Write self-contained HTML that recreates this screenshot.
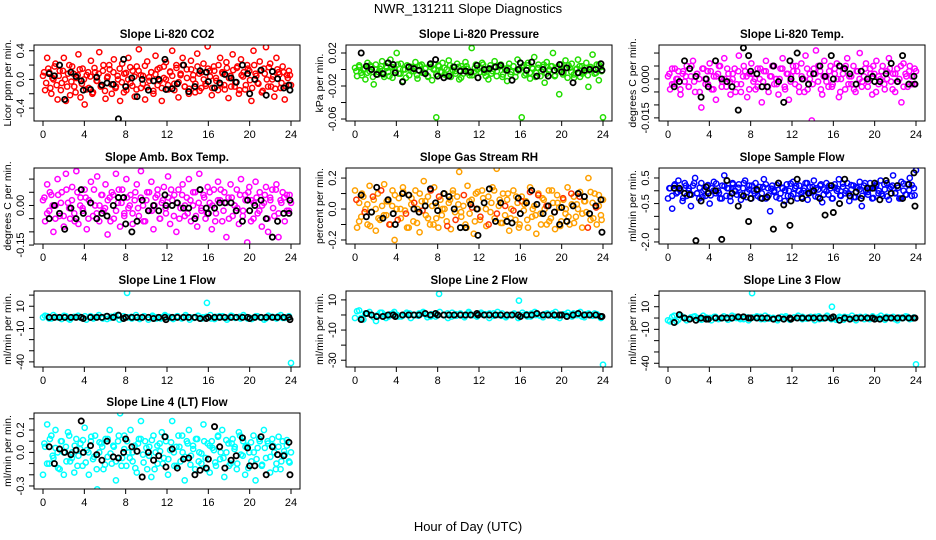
<!DOCTYPE html>
<html><head><meta charset="utf-8">
<style>
html,body{margin:0;padding:0;background:#fff;}
svg{display:block;font-family:"Liberation Sans","DejaVu Sans",sans-serif;}
</style></head>
<body>
<svg id="chart" width="936" height="540" viewBox="0 0 936 540" xmlns="http://www.w3.org/2000/svg">
<rect width="936" height="540" fill="#fff"/>
<text x="468" y="13" text-anchor="middle" font-size="13">NWR_131211  Slope Diagnostics</text>
<text x="468" y="531" text-anchor="middle" font-size="13">Hour of Day (UTC)</text>
</svg>
<script>
const blackHours=[0.6,1.1,1.6,2.1,2.7,3.2,3.7,3.9,4.6,5.2,5.7,6.2,6.8,7.3,7.8,8.0,8.6,9.1,9.6,10.2,10.7,11.2,11.8,11.9,12.5,13.0,13.6,14.1,14.7,15.2,15.8,16.0,16.6,17.1,17.6,18.2,18.7,19.3,19.8,20.0,20.5,21.1,21.6,22.2,22.7,23.3,23.8,23.9];
const xTicks=[0,4,8,12,16,20,24];

const co2Color=[0.05,-0.15,0.3,0.1,-0.2,0.0,0.22,-0.28,0.12,-0.05,0.3,-0.3,0.08,-0.22,0.18,-0.1,0.02,0.35,-0.25,0.15,-0.35,0.06,-0.12,0.26,-0.18,0.1,-0.02,0.38,-0.08,0.2,-0.27,0.04,0.14,-0.2,0.28,-0.1,0.0,-0.3,0.22,0.08,-0.15,0.3,-0.05,0.12,-0.24,0.18,0.42,-0.12,0.05,-0.28,0.25,-0.02,0.1,-0.2,0.33,-0.08,0.16,-0.3,0.02,0.24,-0.14,0.1,0.4,-0.06,0.2,-0.25,0.06,0.3,-0.1,0.14,-0.2,0.26,0.0,-0.18,0.36,0.08,-0.12,0.22,-0.06,0.46,0.12,-0.22,0.18,0.02,-0.15,0.3,0.1,-0.08,0.24,-0.26,0.05,0.35,-0.1,0.16,-0.2,0.28,0.04,-0.14,0.2,0.12,-0.3,0.4,0.08,-0.05,0.25,-0.18,0.15,0.45,-0.1,0.22,0.0,-0.24,0.3,0.1,-0.12,0.18,-0.28,0.06,0.12,-0.08];
const co2Core=[0.1,-0.05,0.15,-0.12,0.02,0.18,-0.08,0.05,-0.15,0.12,0.0,-0.1,0.2,-0.03,0.08,-0.18,0.06,0.14,-0.06,0.0,-0.14,0.1,0.04,-0.2,0.16,-0.02,0.08,-0.1,0.12,-0.16,0.02,0.2,-0.07,0.1,-0.12,0.05,0.15,-0.04,-0.18,0.09,0.0,0.17,-0.09,0.04,-0.14,0.12,0.06,-0.06,0.19,-0.11,0.03,0.1,-0.16,0.07,0.14,-0.02,-0.12,0.18,0.0,-0.08,0.11,0.05,-0.15,0.16,-0.04,0.08,0.2,-0.1,0.02,-0.13,0.14,0.06,-0.06,0.18,-0.16,0.1,0.0,-0.09,0.15,0.04,-0.12,0.12,-0.02,0.2,-0.07,0.08,-0.14,0.16,0.02,-0.1,0.13,-0.04,0.18,-0.15,0.06,0.1,-0.08,0.15,-0.01,-0.12,0.2,0.05,-0.06,0.12,-0.16,0.08,0.0,0.17,-0.1,0.04,-0.13,0.14,0.07,-0.05,0.1,-0.09,0.02,0.06];
const co2Black=[0.08,0.05,0.2,-0.28,0.1,0.04,-0.02,-0.15,-0.14,0.03,-0.08,-0.05,-0.07,-0.55,0.28,-0.1,0.02,-0.24,0.0,-0.15,-0.02,0.0,0.28,-0.14,-0.13,-0.06,0.2,-0.17,-0.1,0.12,0.1,-0.03,-0.12,-0.05,0.07,0.02,-0.04,0.2,0.08,-0.2,0.0,0.13,-0.22,0.11,0.01,-0.12,-0.08,-0.15];

const presColor=[0.002,-0.008,0.005,-0.004,0.0,-0.012,0.008,-0.002,0.003,-0.018,0.006,-0.006,0.001,0.01,-0.009,0.004,-0.003,0.012,-0.01,0.002,0.02,-0.005,0.007,-0.014,0.0,0.005,-0.007,0.003,-0.002,0.009,-0.011,0.004,0.006,-0.004,0.002,-0.008,0.006,-0.013,0.001,-0.058,0.005,-0.003,0.008,-0.006,0.0,0.011,-0.009,0.003,-0.002,0.007,-0.012,0.004,-0.005,0.009,0.001,-0.007,0.026,-0.003,0.006,-0.01,0.002,0.008,-0.004,0.0,-0.012,0.005,-0.002,0.01,-0.008,0.003,0.006,-0.006,0.001,-0.014,0.007,-0.003,0.004,-0.009,0.012,0.0,-0.058,0.005,-0.005,0.008,-0.011,0.002,0.015,-0.004,0.006,-0.008,0.003,-0.016,0.009,-0.002,0.004,0.02,-0.007,0.001,-0.03,0.006,-0.004,0.011,-0.01,0.002,0.007,-0.006,0.0,0.012,-0.009,0.004,-0.003,0.008,-0.021,0.001,0.018,-0.005,0.006,-0.013,0.003,-0.058];
const presCore=[-0.002,0.003,-0.007,0.001,-0.004,0.005,-0.009,0.0,-0.003,0.004,-0.006,0.002,-0.008,0.003,-0.001,0.006,-0.005,0.0,-0.01,0.004,-0.002,0.002,-0.007,0.005,-0.004,0.001,-0.009,0.003,0.0,-0.006,0.004,-0.003,0.002,-0.008,0.005,-0.001,-0.005,0.003,-0.01,0.001,0.004,-0.004,-0.007,0.002,0.0,-0.003,0.006,-0.008,0.001,-0.005,0.003,-0.002,0.005,-0.009,0.0,0.002,-0.006,0.004,-0.003,-0.001,0.003,-0.007,0.005,-0.004,0.001,-0.009,0.002,-0.002,0.006,-0.005,0.0,0.004,-0.008,0.003,-0.001,-0.006,0.002,0.005,-0.003,-0.01,0.001,0.004,-0.005,0.002,-0.007,0.003,0.0,-0.004,0.006,-0.002];
const presBlack=[0.02,0.004,0.0,-0.006,-0.005,0.008,0.006,-0.004,-0.015,0.003,0.001,-0.001,-0.005,0.007,0.012,-0.008,-0.01,-0.008,0.003,-0.002,-0.002,-0.003,0.005,-0.01,0.0,0.001,0.003,0.005,-0.001,-0.013,0.0,0.008,-0.001,0.009,-0.008,0.0,-0.008,-0.001,0.006,-0.003,0.002,-0.016,-0.004,-0.001,0.0,0.0,0.007,-0.001];

const tempColor=[0.001,-0.004,0.004,-0.002,0.0,0.003,-0.006,0.002,-0.001,0.005,-0.003,0.001,0.007,-0.005,0.002,0.0,-0.011,0.004,-0.002,0.003,0.006,-0.004,0.001,-0.008,0.002,0.005,-0.001,0.008,-0.003,0.002,-0.006,0.0,0.004,-0.002,0.009,-0.005,0.001,0.003,-0.007,0.002,0.006,-0.001,-0.004,0.004,0.0,-0.009,0.003,0.007,-0.003,0.001,0.005,-0.002,0.0,-0.006,0.004,0.008,-0.003,0.002,-0.008,0.001,0.005,-0.002,0.003,-0.005,0.006,0.0,0.009,-0.004,0.002,-0.016,0.004,0.011,-0.001,0.003,-0.006,0.007,0.001,-0.003,0.005,-0.002,0.002,0.006,-0.007,0.0,0.004,-0.004,0.008,0.001,-0.002,0.005,-0.005,0.003,0.01,-0.003,0.001,0.006,-0.001,0.004,-0.006,0.002,0.007,-0.002,0.0,0.005,-0.004,0.003,0.008,-0.001,0.002,-0.005,0.004,0.0,-0.009,0.006,0.002,-0.003,0.005,0.001,-0.002,0.003];
const tempCore=[0.002,-0.002,0.004,0.0,-0.004,0.003,0.001,-0.003,0.005,-0.001,0.002,-0.005,0.004,0.0,-0.002,0.003,-0.004,0.001,0.005,-0.003,0.0,0.004,-0.001,0.002,-0.005,0.003,-0.002,0.005,0.001,-0.004,0.002,0.0,-0.003,0.004,-0.001,0.003,-0.005,0.001,0.005,-0.002,0.0,0.004,-0.004,0.002,-0.001,0.003,0.005,-0.003,0.001,-0.005,0.004,0.0,-0.002,0.002,0.005,-0.004,0.001,-0.001,0.003,-0.003,0.004,0.0,-0.005,0.002,0.005,-0.002,0.001,-0.004,0.003,0.0,-0.001,0.004,-0.003,0.002,0.005,-0.005,0.001,0.003,-0.002,0.0,0.004,-0.004,0.002,-0.001,0.005,-0.003,0.001,0.003,-0.002,0.004];
const tempBlack=[-0.003,-0.001,0.007,0.004,0.001,-0.007,0.0,-0.003,0.007,0.0,-0.001,-0.003,-0.012,0.012,0.009,0.003,0.002,-0.003,-0.003,0.005,-0.001,-0.009,0.007,0.0,0.01,0.0,-0.002,0.002,0.005,0.001,0.009,0.0,0.005,0.004,0.002,-0.002,0.003,0.0,0.001,-0.001,-0.001,0.002,0.006,-0.001,0.009,-0.002,0.001,-0.002];

const ambColor=[0.02,-0.06,0.08,-0.02,0.04,-0.1,0.0,0.1,-0.04,0.05,-0.08,0.12,0.01,-0.05,0.07,-0.03,0.13,-0.07,0.03,-0.01,0.06,-0.09,0.02,0.09,-0.04,0.0,0.11,-0.06,0.04,-0.02,0.08,-0.11,0.03,0.05,-0.05,0.12,0.01,-0.08,0.06,-0.03,0.1,-0.01,0.04,-0.07,0.02,0.08,-0.04,0.13,0.0,-0.06,0.05,-0.02,0.09,-0.09,0.03,0.06,-0.05,0.01,0.07,-0.03,0.11,-0.07,0.02,0.04,-0.1,0.06,-0.01,0.08,-0.04,0.03,0.1,-0.06,0.0,0.05,-0.08,0.12,-0.02,0.04,-0.05,0.07,0.01,-0.09,0.06,-0.03,0.09,0.02,-0.06,0.05,-0.12,0.03,0.08,-0.04,0.0,0.06,-0.07,0.1,-0.02,0.04,-0.14,0.07,0.02,-0.05,0.09,-0.03,0.05,-0.08,0.01,0.07,-0.1,0.03,0.06,-0.04,0.08,-0.12,0.02,0.05,-0.06,0.04,-0.02,0.01];
const ambCore=[0.03,-0.03,0.05,0.0,-0.05,0.04,0.01,-0.04,0.06,-0.01,0.02,-0.06,0.05,0.0,-0.02,0.03,-0.05,0.01,0.06,-0.03,0.0,0.04,-0.01,0.02,-0.06,0.04,-0.02,0.06,0.01,-0.04,0.03,0.0,-0.03,0.05,-0.01,0.03,-0.06,0.02,0.05,-0.02,0.0,0.04,-0.05,0.02,-0.01,0.03,0.06,-0.04,0.01,-0.05,0.04,0.0,-0.03,0.02,0.05,-0.04,0.01,-0.01,0.03,-0.03,0.05,0.0,-0.06,0.02,0.06,-0.02,0.01,-0.05,0.03,0.0,-0.01,0.04,-0.04,0.02,0.05,-0.06,0.01,0.03,-0.02,0.0,0.04,-0.05,0.02,-0.01,0.06,-0.03,0.01,0.03,-0.02,0.04];
const ambBlack=[-0.05,0.0,-0.03,-0.09,-0.01,-0.05,0.06,-0.03,0.01,-0.05,-0.03,-0.04,0.0,0.03,0.03,-0.07,-0.1,-0.06,0.02,-0.02,0.0,-0.02,0.04,0.0,0.0,0.01,-0.01,-0.01,-0.05,0.06,-0.01,-0.03,-0.01,0.01,0.01,0.01,-0.02,-0.06,0.02,-0.02,0.0,0.02,-0.05,-0.12,-0.06,-0.03,-0.03,0.02];

const rhColor=[0.12,-0.12,0.04,-0.05,0.08,0.0,-0.1,0.15,-0.02,0.06,-0.14,0.1,-0.07,0.02,0.16,-0.04,0.05,-0.1,0.12,-0.2,0.0,0.07,-0.06,0.14,-0.01,-0.12,0.09,0.03,-0.08,0.12,0.0,-0.15,0.05,0.18,-0.04,0.08,-0.1,0.02,0.14,-0.06,-0.12,0.06,0.0,0.1,-0.08,0.04,-0.13,0.12,-0.02,0.08,0.24,-0.05,0.02,-0.1,0.15,-0.03,0.06,-0.16,0.1,0.0,-0.07,0.12,0.04,-0.11,0.08,-0.02,0.14,-0.06,0.26,0.02,-0.09,0.1,-0.04,0.06,-0.14,0.0,0.12,-0.07,0.04,-0.1,0.08,-0.01,0.05,-0.12,0.14,-0.05,0.02,-0.16,0.1,-0.03,0.07,0.0,-0.1,0.12,-0.06,0.04,-0.13,0.09,0.01,-0.08,0.06,-0.03,0.14,-0.1,0.03,0.08,-0.05,0.0,0.11,-0.12,0.05,-0.02,0.2,-0.07,0.04,0.1,-0.1,0.02,-0.04,0.06];
const rhCore=[0.06,-0.08,0.1,-0.02,0.03,-0.11,0.08,0.0,-0.06,0.12,-0.04,0.05,-0.1,0.02,0.09,-0.07,0.0,0.11,-0.03,-0.12,0.07,0.04,-0.09,0.1,-0.01,0.05,-0.06,0.12,-0.1,0.02,0.08,-0.04,0.0,-0.11,0.06,0.1,-0.07,0.03,-0.02,0.09,-0.12,0.05,0.01,-0.08,0.11,-0.05,0.07,0.0,-0.1,0.04,0.12,-0.03,0.06,-0.09,0.02,0.1,-0.06,-0.01,0.08,-0.12,0.05,0.03,-0.07,0.11,0.0,-0.04,0.09,-0.1,0.06,0.02,-0.08,0.12,-0.02,0.04,-0.11,0.07,0.0,-0.05,0.1,-0.09,0.03,0.08,-0.03,0.05,-0.12,0.11,-0.06,0.01,0.09,-0.07];
const rhBlack=[0.09,-0.05,-0.02,0.14,-0.06,0.06,-0.03,-0.1,0.1,0.09,0.0,-0.02,0.02,0.13,0.04,-0.01,0.1,0.08,0.0,-0.12,-0.12,0.03,0.0,-0.17,0.04,0.13,-0.08,0.04,-0.08,-0.09,0.07,-0.03,0.04,0.12,0.03,-0.03,0.02,-0.02,-0.1,0.01,-0.08,0.02,0.1,0.08,-0.03,0.02,0.06,-0.15];

const flowColor=[-0.3,0.1,-0.7,0.2,-0.1,0.4,0.0,-0.4,0.3,-0.2,0.1,-0.6,0.2,0.5,-0.1,-0.3,0.3,0.0,-0.2,0.2,-0.5,0.1,0.35,-0.1,0.0,-0.3,0.2,0.6,-0.2,0.1,-0.4,0.3,0.0,-0.15,0.25,-0.35,0.1,0.4,-0.05,0.2,-0.3,0.0,0.3,-0.2,0.15,-0.1,0.45,-0.3,0.1,-0.8,0.2,0.0,-0.25,0.3,-0.1,0.1,-0.4,0.25,0.0,-0.2,0.35,0.1,-0.3,0.2,-0.1,0.0,0.3,-0.35,0.15,-0.05,0.4,0.1,-0.25,0.2,-0.45,0.05,0.3,-0.15,0.1,-0.3,0.25,0.0,0.45,-0.2,0.15,-0.1,0.3,-0.4,0.05,0.2,-0.25,0.1,0.35,-0.6,0.2,0.0,-0.15,0.3,-0.3,0.1,0.25,-0.1,0.4,-0.2,0.05,0.3,-0.35,0.15,0.6,-0.1,0.2,-0.3,0.35,0.0,-0.15,0.25,0.5,-0.2,0.1,0.8];
const flowCore=[0.1,-0.2,0.25,-0.05,0.05,-0.28,0.2,0.0,-0.15,0.3,-0.1,0.12,-0.25,0.05,0.22,-0.18,0.0,0.28,-0.08,-0.3,0.18,0.1,-0.22,0.25,-0.02,0.12,-0.15,0.3,-0.25,0.05,0.2,-0.1,0.0,-0.28,0.15,0.25,-0.18,0.08,-0.05,0.22,-0.3,0.12,0.02,-0.2,0.28,-0.12,0.18,0.0,-0.25,0.1,0.3,-0.08,0.15,-0.22,0.05,0.25,-0.15,-0.02,0.2,-0.3,0.12,0.08,-0.18,0.28,0.0,-0.1,0.22,-0.25,0.15,0.05,-0.2,0.3,-0.05,0.1,-0.28,0.18,0.0,-0.12,0.25,-0.22,0.08,0.2,-0.08,0.12,-0.3,0.28,-0.15,0.02,0.22,-0.18];
const flowBlack=[0.1,0.1,-0.1,-0.15,-1.95,-0.4,0.15,-0.1,0.0,-1.9,0.4,-0.1,-0.6,-0.2,-1.2,-0.3,0.05,-0.3,-0.25,-1.5,0.3,-0.55,-1.35,-0.4,0.45,-0.3,-0.1,0.0,-0.3,-0.95,0.2,-0.85,-0.5,0.45,-0.2,-0.05,-0.3,0.1,0.1,0.3,-0.35,0.4,-0.1,0.2,-0.3,0.25,0.7,-0.6];

const line1Color=[0,1,-1,0.5,0,1.5,-1,0,0.5,-0.5,1,0,-1,0.5,0,1,-0.5,0,1.5,-1,22,0.5,0,-1.5,1,0,0.5,-1,0,1,-0.5,0,1,-1,0.5,0,-0.5,1,0,13,-1,0.5,1,0,-0.5,1,0,-1,0.5,0,-0.5,1,0,-1,0.5,0,1,-0.5,0,-41];
const line1Core=[1.5,-1,2,0,-1.5,1,-2,0.5,1.5,-0.5,-2,1,0,2,-1,-1.5,0.5,1.5,-2,1,0,-1,2,-0.5,1,-2,1.5,0,-1,2,0.5,-1.5,1,-0.5,2,-2,0,1.5,-1,0.5,2,-1.5,0,1,-2,1.5,-0.5,0.5,2,-1,-1.5,1,0,-2,1.5,0.5,-1,2,-0.5,1];
const line1Black=[0,0,0,0,0,0,0,-1,0,0,0,1,0,2,-1,0,0,0,0,0,-1,0,0,-2,0,0,0,0,0,-1,-1,0,0,0,0,0,0,0,0,-1,0,0,0,0,0,0,0,-2];
const line2Color=[-2,3,-3,1,0,-4,1.5,0,-1,1,0,-1,0.5,1,0,-0.5,1,0,-1,0.5,14,0,1,-1,0.5,0,-0.5,1,0,-1,0.5,0,1,-0.5,0,1,-1,0,0.5,9.5,0,-1,1,0,-0.5,0.5,0,1,-1,0,0.5,-0.5,1,0,-1,0.5,0,1,-0.5,-33];
const line2Core=[2.5,-2,1,2,-1.5,0,1.5,-2,0.5,2,-1,-0.5,1.5,-2,0,1,2,-1.5,0.5,-1,2,0,-2,1.5,-0.5,1,-1.5,2,0,-1,1.5,0.5,-2,1,2,-0.5,-1.5,0,1,-2,1.5,0.5,-1,2,0,-1.5,1,-0.5,2,-2,0.5,1.5,-1,0,2,-1.5,1,-0.5,0.5,-2];
const line2Black=[-3,1,0,-1,-1,0,0,-1,0,0,0,0,1,0,1,0,0,0,0,0,0,0,1,0,0,0,0,0,0,0,0,-1,0,0,1,0,0,0,0,0,-1,0,1,0,0,0,-1,-1];
const line3Color=[-2,1,-3,2,0,-1,1,0,-1.5,0.5,0,1,-1,0,0.5,-0.5,1,0,-1,0.5,22,0,1,-1,0.5,0,-0.5,1,0,-1,0.5,0,1,-0.5,0,1,-1,0,0.5,10,-1.5,0,1,0,-0.5,0.5,0,1,-1,0,0.5,-0.5,1,0,-1,0.5,0,1,-0.5,-41];
const line3Core=[-3,2,-1.5,1,-2,0.5,1.5,-1,2,0,-2,1,-0.5,1.5,-1.5,2,0,-1,1,-2,0.5,1.5,-1,2,-0.5,0,-2,1,1.5,-1.5,0.5,2,-1,0,1,-2,1.5,-0.5,2,-1,0,1,-1.5,0.5,2,-2,1,-1,0,1.5,-0.5,2,-1.5,0.5,1,-2,0,1.5,-1,0.5];
const line3Black=[-4,3,0,-1,-2,0,-1,-1,0,0,0,0,1,1,0,0,0,0,0,-1,0,-1,0,-1,0,0,0,0,0,0,0,1,-2,0,-1,0,0,0,0,-1,-1,0,0,0,0,0,0,0];

const line4Color=[-0.2,0.05,0.25,-0.1,0.15,-0.05,0.2,0.0,-0.15,0.1,-0.2,0.05,0.18,-0.08,0.0,-0.18,0.12,-0.03,0.08,-0.12,0.22,0.02,-0.2,0.1,-0.06,0.15,-0.33,0.0,0.08,-0.15,0.12,-0.04,0.2,-0.1,0.05,-0.25,0.1,0.35,-0.05,0.15,-0.12,0.0,0.2,-0.08,0.06,-0.18,0.12,0.28,-0.02,0.1,-0.15,0.05,-0.22,0.15,0.0,-0.1,0.08,0.18,-0.05,0.1,-0.2,0.02,0.28,-0.12,0.05,0.15,-0.08,0.0,-0.25,0.1,0.2,-0.03,0.06,-0.15,0.12,0.0,-0.1,0.25,-0.05,0.08,-0.18,0.1,0.02,-0.12,0.15,-0.06,0.2,-0.22,0.0,0.08,-0.1,0.12,0.05,-0.15,0.18,-0.02,0.1,-0.2,0.06,0.0,-0.08,0.15,-0.25,0.04,0.1,-0.12,0.2,-0.05,0.08,-0.18,0.12,0.0,-0.1,0.05,-0.15,0.1,-0.02,0.06,-0.08,0.0];
const line4Core=[0.08,-0.1,0.12,-0.03,0.04,-0.14,0.1,0.0,-0.08,0.15,-0.05,0.06,-0.12,0.03,0.11,-0.09,0.0,0.14,-0.04,-0.15,0.09,0.05,-0.11,0.12,-0.01,0.06,-0.08,0.15,-0.12,0.03,0.1,-0.05,0.0,-0.14,0.08,0.12,-0.09,0.04,-0.03,0.11,-0.15,0.06,0.01,-0.1,0.14,-0.06,0.09,0.0,-0.12,0.05,0.15,-0.04,0.08,-0.11,0.03,0.12,-0.08,-0.01,0.1,-0.15,0.06,0.04,-0.09,0.14,0.0,-0.05,0.11,-0.12,0.08,0.03,-0.1,0.15,-0.03,0.05,-0.14,0.09,0.0,-0.06,0.12,-0.11,0.04,0.1,-0.04,0.06,-0.15,0.14,-0.08,0.01,0.11,-0.09];
const line4Black=[0.05,-0.1,0.03,0.0,-0.02,0.02,0.28,0.0,0.06,-0.02,-0.07,0.1,-0.04,-0.05,0.0,0.12,0.05,0.01,-0.22,0.0,-0.07,-0.03,0.14,-0.13,0.03,-0.14,-0.06,-0.05,-0.2,-0.16,-0.14,-0.06,0.23,0.05,-0.14,-0.07,-0.03,0.13,0.04,-0.12,-0.12,0.14,-0.2,0.05,-0.02,-0.03,0.09,-0.2];

const co2Ticks=[0.4,0.2,0,-0.2,-0.4],co2Labels=["0.4","","0.0","","-0.4"];
const presTicks=[0.02,0,-0.02,-0.04,-0.06],presLabels=["0.02","","-0.02","","-0.06"];
const tempTicks=[0.01,0.005,0,-0.005,-0.01,-0.015],tempLabels=["","","0.000","","","-0.015"];
const ambTicks=[0.1,0.05,0,-0.05,-0.1,-0.15],ambLabels=["","","0.00","","","-0.15"];
const rhTicks=[0.2,0.1,0,-0.1,-0.2],rhLabels=["0.2","","0.0","","-0.2"];
const flowTicks=[0.5,0,-0.5,-1,-1.5,-2],flowLabels=["0.5","","-0.5","","","-2.0"];
const line1Ticks=[20,10,0,-10,-20,-30,-40],line1Labels=["","10","","-10","","","-40"];
const line2Ticks=[10,0,-10,-20,-30],line2Labels=["10","","-10","","-30"];
const line3Ticks=[20,10,0,-10,-20,-30,-40],line3Labels=["","10","","-10","","","-40"];
const line4Ticks=[0.3,0.2,0.1,0,-0.1,-0.2,-0.3],line4Labels=["","0.2","","0.0","","","-0.3"];

const NS="http://www.w3.org/2000/svg";
const svg=document.getElementById('chart');
const colLeft=[34,346,659], rowTop=[45,168,291,413], W=266, H=76;
function mk(tag,attrs,parent){const e=document.createElementNS(NS,tag);for(const k in attrs)e.setAttribute(k,attrs[k]);(parent||svg).appendChild(e);return e;}

const panels=[
 {key:'co2',title:'Slope Li-820 CO2',ylab:'Licor ppm per min.',col:0,row:0,dom:[0.48,-0.58],ticks:co2Ticks,labels:co2Labels,c:co2Color,k:co2Core,b:co2Black,color:'#ff0000'},
 {key:'pressure',title:'Slope Li-820 Pressure',ylab:'kPa per min.',col:1,row:0,dom:[0.0297,-0.0624],ticks:presTicks,labels:presLabels,c:presColor,k:presCore,b:presBlack,color:'#22dd00'},
 {key:'temp',title:'Slope Li-820 Temp.',ylab:'degrees C per min.',col:2,row:0,dom:[0.0131,-0.0162],ticks:tempTicks,labels:tempLabels,c:tempColor,k:tempCore,b:tempBlack,color:'#ff00ff'},
 {key:'amb-box-temp',title:'Slope Amb. Box Temp.',ylab:'degrees C per min.',col:0,row:1,dom:[0.142,-0.146],ticks:ambTicks,labels:ambLabels,c:ambColor,k:ambCore,b:ambBlack,color:'#ff00ff'},
 {key:'gas-rh',title:'Slope Gas Stream RH',ylab:'percent per min.',col:1,row:1,dom:[0.265,-0.226],ticks:rhTicks,labels:rhLabels,c:rhColor,k:rhCore,b:rhBlack,color:'#ffa000',color2:'#ff3300'},
 {key:'sample-flow',title:'Slope Sample Flow',ylab:'ml/min per min.',col:2,row:1,dom:[0.89,-2.08],ticks:flowTicks,labels:flowLabels,c:flowColor,k:flowCore,b:flowBlack,color:'#0000ff'},
 {key:'line1-flow',title:'Slope Line 1 Flow',ylab:'ml/min per min.',col:0,row:2,dom:[23.7,-44.6],ticks:line1Ticks,labels:line1Labels,c:line1Color,k:line1Core,b:line1Black,color:'#00ffff'},
 {key:'line2-flow',title:'Slope Line 2 Flow',ylab:'ml/min per min.',col:1,row:2,dom:[15.9,-34.5],ticks:line2Ticks,labels:line2Labels,c:line2Color,k:line2Core,b:line2Black,color:'#00ffff'},
 {key:'line3-flow',title:'Slope Line 3 Flow',ylab:'ml/min per min.',col:2,row:2,dom:[23.9,-43.3],ticks:line3Ticks,labels:line3Labels,c:line3Color,k:line3Core,b:line3Black,color:'#00ffff'},
 {key:'line4-flow',title:'Slope Line 4 (LT) Flow',ylab:'ml/min per min.',col:0,row:3,dom:[0.352,-0.327],ticks:line4Ticks,labels:line4Labels,c:line4Color,k:line4Core,b:line4Black,color:'#00ffff'}
];

panels.forEach(p=>{
  const L=colLeft[p.col], T=rowTop[p.row];
  const g=mk('g',{});
  
  
  const xs=h=>L+9+h/24*248;
  const ys=v=>T+(p.dom[0]-v)/(p.dom[0]-p.dom[1])*H;
  const t=mk('text',{x:L+W/2,y:T-10,'text-anchor':'middle','dominant-baseline':'middle','font-size':'11.5','font-weight':'bold'},g);
  t.textContent=p.title;
  
  
  const yl=mk('text',{transform:`translate(${L-26},${T+H/2}) rotate(-90)`,'text-anchor':'middle','dominant-baseline':'middle','font-size':'10.5'},g);
  yl.textContent=p.ylab;
  
  
  const cid='clip-'+p.key;
  const cp=mk('clipPath',{id:cid},g); mk('rect',{x:L,y:T,width:W,height:H},cp);
  const pts=mk('g',{'clip-path':`url(#${cid})`,fill:'none','stroke-width':'1.5'},g);
  
  
  const n=p.c.length, m=p.k.length;
  p.c.forEach((v,i)=>{
    const c=mk('circle',{cx:xs(i/(n-1)*24),cy:ys(v),r:2.6,stroke:p.color},pts);
    
    
  });
  p.k.forEach((v,i)=>{
    const c=mk('circle',{cx:xs((i+0.5)/m*24),cy:ys(v),r:2.6,stroke:(p.color2&&i%3==0)?p.color2:p.color},pts);
    
    
  });
  p.b.forEach((v,i)=>{
    const c=mk('circle',{cx:xs(blackHours[i]),cy:ys(v),r:2.6,stroke:'#000','stroke-width':'1.8'},pts);
    
    
  });
  const box=mk('rect',{x:L,y:T,width:W,height:H,fill:'none',stroke:'#000','stroke-width':'1'},g);
  
  
  xTicks.forEach(h=>{
    mk('line',{x1:xs(h),x2:xs(h),y1:T+H,y2:T+H+5,stroke:'#000'},g);
    const lt=mk('text',{x:xs(h),y:T+H+17,'text-anchor':'middle','font-size':'11'},g);
    lt.textContent=h;
    
    
  });
  p.ticks.forEach((v,i)=>{
    const y=ys(v);
    mk('line',{x1:L-5,x2:L,y1:y,y2:y,stroke:'#000'},g);
    if(p.labels[i]){
      const lt=mk('text',{transform:`translate(${L-13},${y}) rotate(-90)`,'text-anchor':'middle','dominant-baseline':'middle','font-size':'11'},g);
      lt.textContent=p.labels[i];
      
      
    }
  });
});
</script>
</body></html>
